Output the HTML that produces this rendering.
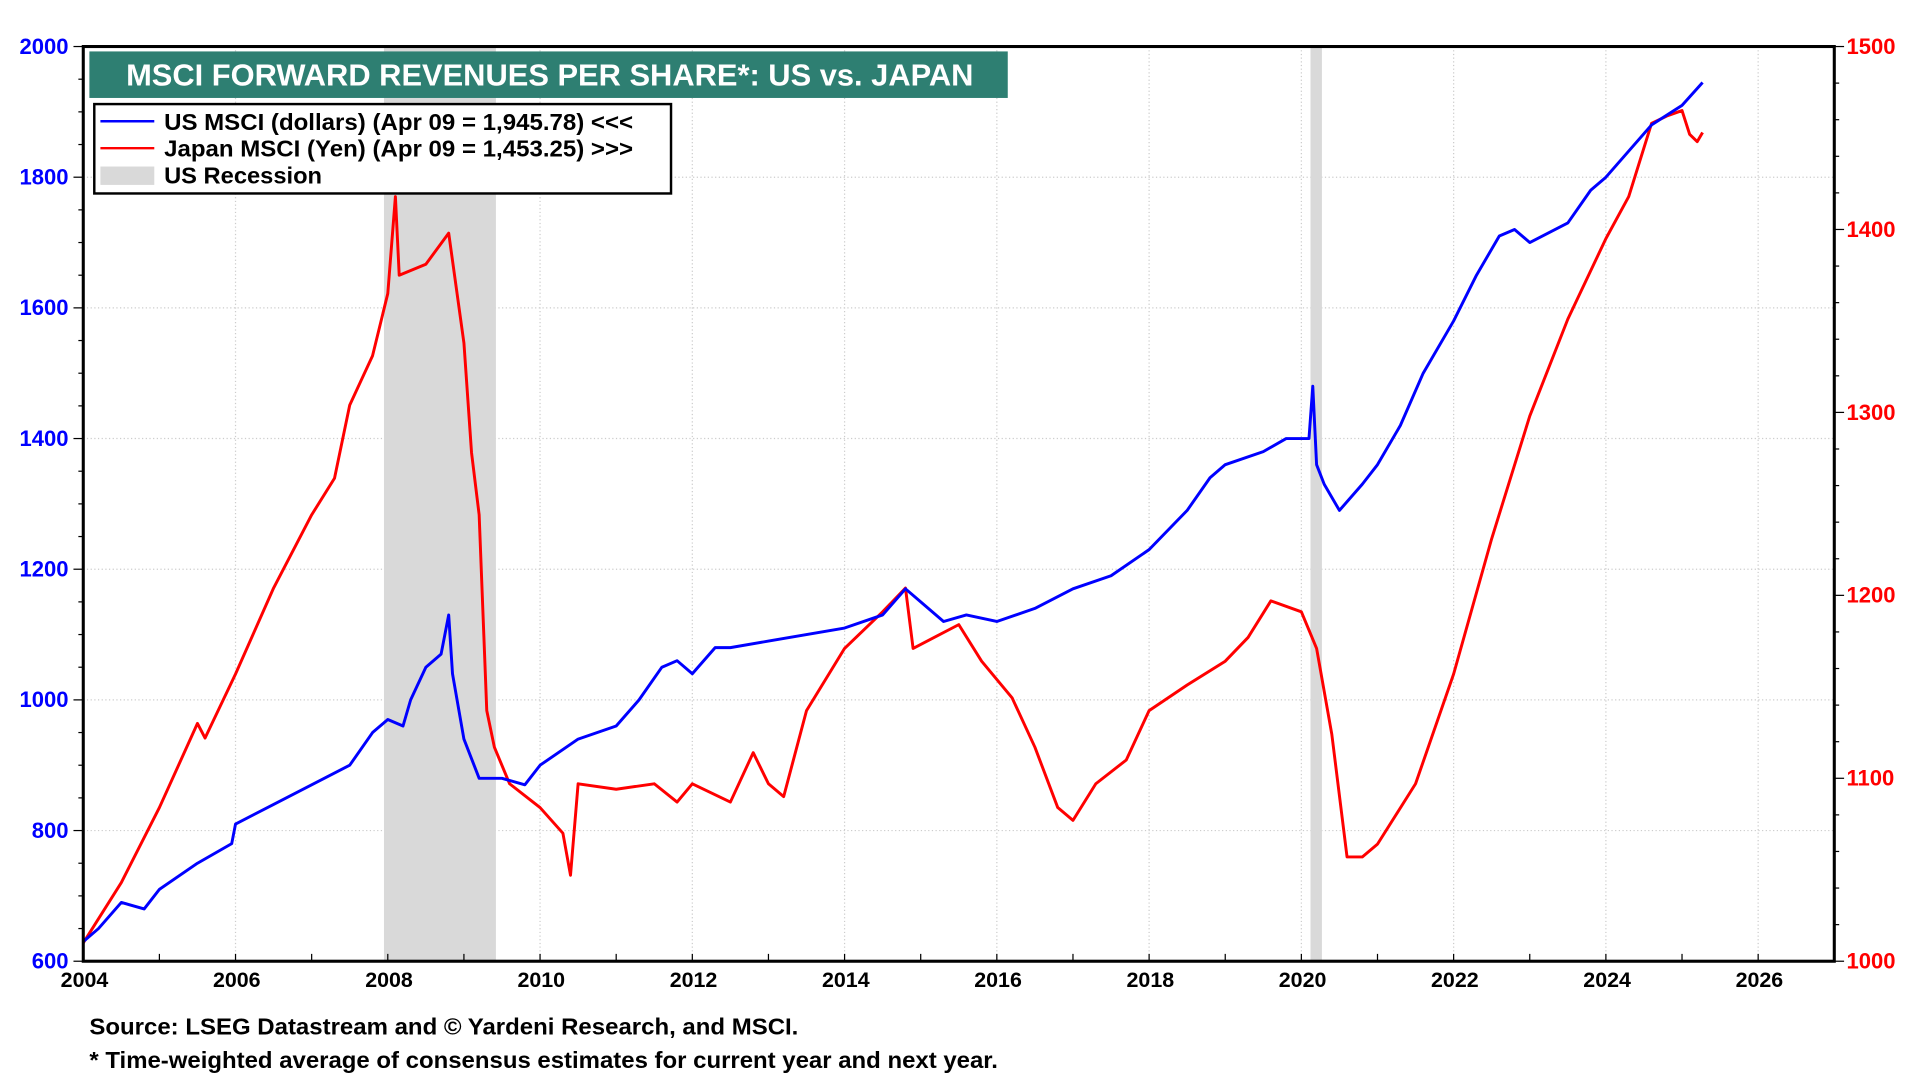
<!DOCTYPE html>
<html><head><meta charset="utf-8"><style>
html,body{margin:0;padding:0;background:#fff;}
svg{display:block;font-family:"Liberation Sans",Arial,sans-serif;font-weight:bold;}
</style></head><body>
<svg id="chart" width="1920" height="1080" viewBox="0 0 1568 882" xmlns="http://www.w3.org/2000/svg">
<g id="grid"></g>
<g id="rec"></g>
<g id="series"></g>
<rect x="68" y="38" width="1430" height="747" fill="none" stroke="#000" stroke-width="2.5"/>
<g id="axes"></g>
<rect x="73" y="42" width="750" height="38" fill="#2e7f72"/>
<text x="103" y="70" font-size="25" fill="#fff" textLength="692" lengthAdjust="spacingAndGlyphs">MSCI FORWARD REVENUES PER SHARE*: US vs. JAPAN</text>
<g>
<rect x="77" y="85" width="471" height="73" fill="#fff" stroke="#000" stroke-width="2"/>
<line x1="82" y1="99" x2="126" y2="99" stroke="#0000ff" stroke-width="2"/>
<text x="134" y="106" font-size="19" textLength="383" lengthAdjust="spacingAndGlyphs">US MSCI (dollars) (Apr 09 = 1,945.78) &lt;&lt;&lt;</text>
<line x1="82" y1="121" x2="126" y2="121" stroke="#ff0000" stroke-width="2"/>
<text x="134" y="128" font-size="19" textLength="383" lengthAdjust="spacingAndGlyphs">Japan MSCI (Yen) (Apr 09 = 1,453.25) &gt;&gt;&gt;</text>
<rect x="82" y="136" width="44" height="15" fill="#d9d9d9"/>
<text x="134" y="150" font-size="19" textLength="129" lengthAdjust="spacingAndGlyphs">US Recession</text>
</g>
<text x="73" y="845" font-size="18.5" textLength="579" lengthAdjust="spacingAndGlyphs">Source: LSEG Datastream and © Yardeni Research, and MSCI.</text>
<text x="73" y="872" font-size="18.5" textLength="742" lengthAdjust="spacingAndGlyphs">* Time-weighted average of consensus estimates for current year and next year.</text>
</svg>
<script>
const usDates=[2004.0,2004.2,2004.5,2004.8,2005.0,2005.5,2005.95,2006.0,2006.5,2007.0,2007.5,2007.8,2008.0,2008.2,2008.3,2008.5,2008.7,2008.8,2008.85,2009.0,2009.2,2009.5,2009.8,2010.0,2010.5,2011.0,2011.3,2011.6,2011.8,2012.0,2012.3,2012.5,2013.0,2013.5,2014.0,2014.5,2014.8,2015.0,2015.3,2015.6,2016.0,2016.5,2017.0,2017.5,2018.0,2018.5,2018.8,2019.0,2019.5,2019.8,2020.0,2020.1,2020.15,2020.2,2020.3,2020.5,2020.8,2021.0,2021.3,2021.6,2022.0,2022.3,2022.6,2022.8,2023.0,2023.5,2023.8,2024.0,2024.3,2024.6,2025.0,2025.27];
const usValues=[630,650,690,680,710,750,780,810,840,870,900,950,970,960,1000,1050,1070,1130,1040,940,880,880,870,900,940,960,1000,1050,1060,1040,1080,1080,1090,1100,1110,1130,1170,1150,1120,1130,1120,1140,1170,1190,1230,1290,1340,1360,1380,1400,1400,1400,1480,1360,1330,1290,1330,1360,1420,1500,1580,1650,1710,1720,1700,1730,1780,1800,1840,1880,1910,1945];
const jpDates=[2004.0,2004.5,2005.0,2005.5,2005.6,2006.0,2006.5,2007.0,2007.3,2007.5,2007.8,2008.0,2008.1,2008.15,2008.5,2008.8,2009.0,2009.1,2009.2,2009.3,2009.4,2009.6,2010.0,2010.3,2010.4,2010.5,2011.0,2011.5,2011.8,2012.0,2012.5,2012.8,2013.0,2013.2,2013.5,2014.0,2014.5,2014.8,2014.9,2015.5,2015.8,2016.2,2016.5,2016.8,2017.0,2017.3,2017.7,2018.0,2018.5,2019.0,2019.3,2019.6,2020.0,2020.2,2020.4,2020.6,2020.8,2021.0,2021.5,2022.0,2022.5,2023.0,2023.5,2024.0,2024.3,2024.6,2024.8,2025.0,2025.1,2025.2,2025.27];
const jpValues=[1010,1043,1084,1130,1122,1157,1204,1244,1264,1304,1331,1365,1418,1375,1381,1398,1338,1278,1244,1137,1117,1097,1084,1070,1047,1097,1094,1097,1087,1097,1087,1114,1097,1090,1137,1171,1191,1204,1171,1184,1164,1144,1117,1084,1077,1097,1110,1137,1151,1164,1177,1197,1191,1171,1124,1057,1057,1064,1097,1157,1231,1298,1351,1395,1418,1458,1462,1465,1452,1448,1453];
const xTicks=[2004,2006,2008,2010,2012,2014,2016,2018,2020,2022,2024,2026];
const yLeftTicks=[600,800,1000,1200,1400,1600,1800,2000];
const yRightTicks=[1000,1100,1200,1300,1400,1500];
const recessions=[[2007.95,2009.42],[2020.12,2020.27]];

const L=68,R=1498,T=38,B=785;
const X=d=>L+(d-2004)*(R-L)/(2027.0-2004);
const YL=v=>B-(v-600)*(B-T)/1400;
const YR=v=>B-(v-1000)*(B-T)/500;
const NS='http://www.w3.org/2000/svg';
function mk(tag,attrs,parent,txt){const e=document.createElementNS(NS,tag);for(const k in attrs)e.setAttribute(k,attrs[k]);if(txt!==undefined)e.textContent=txt;parent.appendChild(e);return e;}
const grid=document.getElementById('grid'),axes=document.getElementById('axes'),rec=document.getElementById('rec'),ser=document.getElementById('series');
xTicks.forEach(t=>{
  const g=mk('line',{x1:X(t),x2:X(t),y1:T,y2:B,stroke:'#ccc','stroke-dasharray':'1,2'},grid);
  
  
  const tx=mk('text',{x:X(t)+1,y:B+21,'text-anchor':'middle','font-size':17.5,fill:'#000'},axes,String(t));
  
  
});
for(let y=2004;y<=2027;y++){mk('line',{x1:X(y),x2:X(y),y1:B,y2:B-6,stroke:'#000','stroke-width':1},axes);}
yLeftTicks.forEach(t=>{
  const g=mk('line',{x1:L,x2:R,y1:YL(t),y2:YL(t),stroke:'#ccc','stroke-dasharray':'1,2'},grid);
  
  
  const tx=mk('text',{x:L-12,y:YL(t)+6,'text-anchor':'end','font-size':18,fill:'#0000ff'},axes,String(t));
  
  
});
for(let v=600;v<=2000;v+=50){mk('line',{x1:L-(v%200===0?8:4),x2:L,y1:YL(v),y2:YL(v),stroke:'#000'},axes);}
yRightTicks.forEach(t=>{
  const tx=mk('text',{x:R+10,y:YR(t)+6,'text-anchor':'start','font-size':18,fill:'#ff0000'},axes,String(t));
  
  
});
for(let v=1000;v<=1500;v+=20){mk('line',{x1:R,x2:R+(v%100===0?8:4),y1:YR(v),y2:YR(v),stroke:'#000'},axes);}
recessions.forEach(r=>{
  const e=mk('rect',{x:X(r[0]),y:T,width:X(r[1])-X(r[0]),height:B-T,fill:'#d9d9d9'},rec);
  
  
});
const jp=mk('polyline',{points:jpDates.map((d,i)=>X(d)+','+YR(jpValues[i])).join(' '),fill:'none',stroke:'#ff0000','stroke-width':2.4,'stroke-linejoin':'round'},ser);


const us=mk('polyline',{points:usDates.map((d,i)=>X(d)+','+YL(usValues[i])).join(' '),fill:'none',stroke:'#0000ff','stroke-width':2.4,'stroke-linejoin':'round'},ser);


</script>
</body></html>
